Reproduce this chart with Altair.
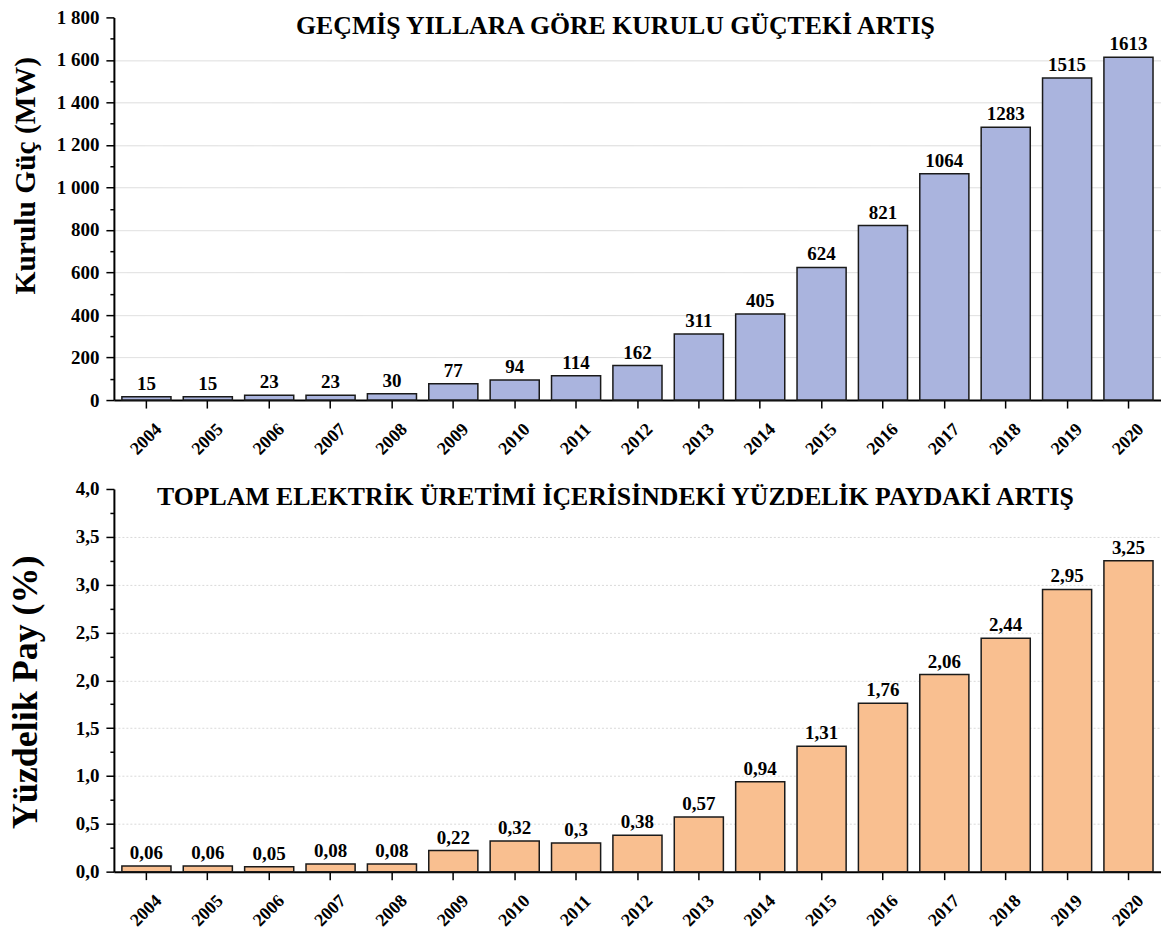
import altair as alt
import pandas as pd

# Installed capacity and share of total electricity generation, 2004-2020
years = ["2004", "2005", "2006", "2007", "2008", "2009", "2010", "2011", "2012",
         "2013", "2014", "2015", "2016", "2017", "2018", "2019", "2020"]
capacity_mw = [15, 15, 23, 23, 30, 77, 94, 114, 162, 311, 405, 624, 821, 1064,
               1283, 1515, 1613]
share_pct = [0.06, 0.06, 0.05, 0.08, 0.08, 0.22, 0.32, 0.3, 0.38, 0.57, 0.94,
             1.31, 1.76, 2.06, 2.44, 2.95, 3.25]

cap_ticks = [v * 100 for v in range(0, 19)]
share_ticks = [v * 0.25 for v in range(0, 17)]

SERIF = "Liberation Serif"
PLOT_W = 1048
PLOT_H = 383

cap_df = pd.DataFrame({"year": years, "value": capacity_mw})
share_df = pd.DataFrame({"year": years, "value": share_pct})


def panel(df, color, ymax, ticks, major_test, label_expr, label_calc,
          title_text, y_title, y_title_size, y_title_y, grid_dash):
    x_axis = alt.Axis(
        title=None,
        labelAngle=315,
        labelAlign="center",
        labelBaseline="middle",
        labelPadding=31,
        labelFontSize=18,
        tickSize=8,
    )
    y_axis = alt.Axis(
        title=y_title,
        titleFont=SERIF,
        titleFontSize=y_title_size,
        titleFontWeight="bold",
        titleColor="black",
        titleX=-88,
        titleY=y_title_y,
        titleBaseline="middle",
        values=ticks,
        labelExpr=label_expr,
        labelFontSize=19,
        labelPadding=7,
        tickSize={"condition": {"test": f"!({major_test})", "value": 4}, "value": 8},
        grid=True,
        gridColor="#d9d9d9",
        gridWidth=1,
        gridDash=grid_dash,
        gridOpacity={
            "condition": {
                "test": f"({major_test}) && datum.value > 0 && datum.value < {ymax}",
                "value": 1,
            },
            "value": 0,
        },
    )
    base = alt.Chart(df).transform_calculate(label=label_calc).encode(
        x=alt.X("year:O", sort=years,
                scale=alt.Scale(paddingInner=0.2, paddingOuter=0.13),
                axis=x_axis),
        y=alt.Y("value:Q", scale=alt.Scale(domain=[0, ymax], nice=False),
                axis=y_axis),
    )
    bars = base.mark_bar(color=color, stroke="#1a1a1a", strokeWidth=1.5)
    labels = base.mark_text(
        baseline="bottom", dy=-3, font=SERIF, fontSize=19,
        fontWeight="bold", color="black",
    ).encode(text="label:N")
    return alt.layer(bars, labels).properties(
        width=PLOT_W,
        height=PLOT_H,
        title=alt.TitleParams(
            text=title_text, font=SERIF, fontSize=25.8, fontWeight="bold",
            color="black", anchor="middle", frame="group", offset=-31, dx=-22,
        ),
    )


top = panel(
    cap_df, "#aab4de", 1800, cap_ticks,
    "datum.value % 200 == 0",
    "datum.value % 200 == 0 ? replace(format(datum.value, ','), ',', ' ') : ''",
    "toString(datum.value)",
    "GEÇMİŞ YILLARA GÖRE KURULU GÜÇTEKİ ARTIŞ",
    "Kurulu Güç (MW)",
    29.5,
    158,
    [1, 0],
)
bottom = panel(
    share_df, "#f9bf90", 4.0, share_ticks,
    "(datum.value * 2) % 1 == 0",
    "(datum.value * 2) % 1 == 0 ? replace(format(datum.value, '.1f'), '.', ',') : ''",
    "replace(toString(datum.value), '.', ',')",
    "TOPLAM ELEKTRİK ÜRETİMİ İÇERİSİNDEKİ YÜZDELİK PAYDAKİ ARTIŞ",
    "Yüzdelik Pay (%)",
    36,
    203,
    [2, 2],
)

chart = alt.vconcat(top, bottom, spacing=21).properties(
    padding={"left": 8, "top": 8, "right": 0, "bottom": 0},
    background="white",
).configure_view(stroke=None).configure_axis(
    domainColor="black",
    domainWidth=2,
    tickColor="black",
    tickWidth=1.5,
    labelFont=SERIF,
    labelFontWeight="bold",
    labelColor="black",
)

chart.save("out.html", embed_options={"renderer": "svg", "actions": False})
